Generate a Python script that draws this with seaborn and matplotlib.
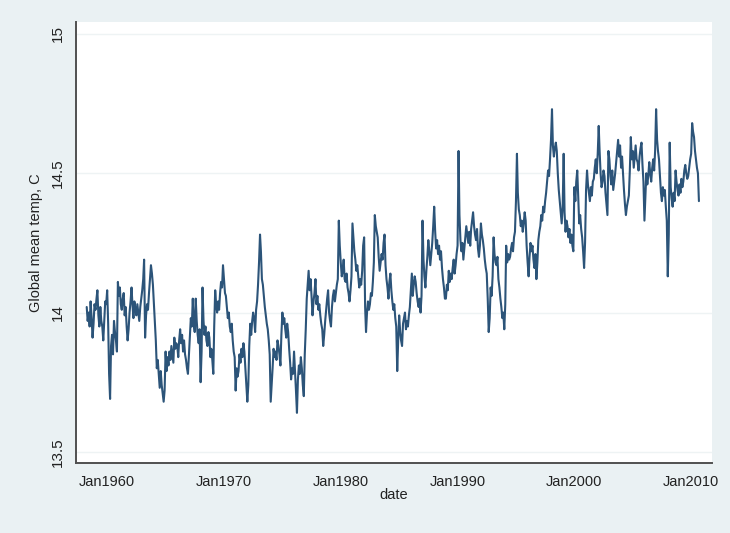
import numpy as np
import pandas as pd
import matplotlib
matplotlib.use("Agg")
import matplotlib.pyplot as plt
import matplotlib.dates as mdates
import seaborn as sns

# Monthly global mean temperature (deg C), April 1958 - September 2010
temp_1958 = [14.02, 13.97, 14.00, 13.95, 14.04, 13.98, 13.91, 13.96, 14.03]
temp_1959 = [14.01, 14.05, 14.08, 13.99, 13.95, 14.02, 13.97, 13.95, 13.90, 13.97, 14.04, 14.03]
temp_1960 = [14.08, 13.96, 13.78, 13.69, 13.88, 13.92, 13.85, 13.97, 13.93, 13.90, 13.86, 14.11]
temp_1961 = [14.06, 14.09, 14.03, 14.01, 14.05, 14.07, 13.99, 14.02, 13.95, 13.90, 13.94, 14.00]
temp_1962 = [14.04, 14.09, 14.03, 13.98, 14.04, 14.01, 13.99, 14.03, 14.00, 13.97, 14.02, 14.05]
temp_1963 = [14.08, 14.12, 14.19, 13.91, 13.99, 14.03, 14.01, 14.07, 14.12, 14.17, 14.14, 14.10]
temp_1964 = [14.03, 13.96, 13.90, 13.80, 13.83, 13.78, 13.73, 13.79, 13.74, 13.71, 13.68, 13.72]
temp_1965 = [13.86, 13.79, 13.84, 13.81, 13.86, 13.83, 13.88, 13.85, 13.82, 13.91, 13.87, 13.89]
temp_1966 = [13.88, 13.84, 13.90, 13.94, 13.89, 13.92, 13.86, 13.90, 13.85, 13.83, 13.80, 13.78]
temp_1967 = [13.85, 13.92, 13.98, 13.95, 14.05, 13.96, 13.93, 14.05, 13.97, 13.92, 13.89, 13.94]
temp_1968 = [13.75, 13.86, 14.09, 13.97, 13.92, 13.95, 13.90, 13.88, 13.93, 13.91, 13.84, 13.87]
temp_1969 = [13.83, 13.78, 13.95, 14.08, 14.03, 14.00, 14.04, 14.01, 14.07, 14.11, 14.09, 14.17]
temp_1970 = [14.12, 14.07, 14.06, 14.02, 13.98, 14.00, 13.95, 13.93, 13.96, 13.90, 13.86, 13.84]
temp_1971 = [13.72, 13.80, 13.77, 13.79, 13.85, 13.82, 13.87, 13.84, 13.89, 13.86, 13.80, 13.74]
temp_1972 = [13.68, 13.74, 13.88, 13.96, 13.92, 13.97, 14.00, 13.98, 13.93, 14.01, 14.04, 14.10]
temp_1973 = [14.18, 14.28, 14.22, 14.12, 14.10, 14.06, 14.02, 13.99, 13.96, 13.94, 13.90, 13.85]
temp_1974 = [13.68, 13.74, 13.80, 13.87, 13.84, 13.86, 13.83, 13.90, 13.88, 13.85, 13.81, 13.92]
temp_1975 = [14.00, 13.96, 13.98, 13.94, 13.91, 13.96, 13.93, 13.87, 13.82, 13.76, 13.80, 13.78]
temp_1976 = [13.86, 13.79, 13.72, 13.64, 13.76, 13.81, 13.78, 13.84, 13.80, 13.74, 13.70, 13.85]
temp_1977 = [13.94, 14.05, 14.10, 14.15, 14.08, 14.12, 14.06, 13.99, 14.04, 14.07, 14.12, 14.03]
temp_1978 = [14.06, 14.01, 14.03, 13.99, 13.96, 13.94, 13.88, 13.92, 13.97, 14.01, 14.05, 14.08]
temp_1979 = [14.00, 13.97, 13.95, 14.02, 14.06, 14.08, 14.04, 14.07, 14.10, 14.12, 14.33, 14.24]
temp_1980 = [14.18, 14.13, 14.15, 14.19, 14.12, 14.11, 14.14, 14.09, 14.07, 14.04, 14.08, 14.13]
temp_1981 = [14.32, 14.27, 14.22, 14.19, 14.15, 14.17, 14.13, 14.09, 14.12, 14.10, 14.15, 14.24]
temp_1982 = [14.27, 14.02, 13.93, 14.00, 14.04, 14.01, 14.03, 14.07, 14.06, 14.11, 14.18, 14.35]
temp_1983 = [14.31, 14.29, 14.27, 14.20, 14.15, 14.18, 14.21, 14.19, 14.25, 14.28, 14.17, 14.12]
temp_1984 = [14.09, 14.05, 14.11, 14.14, 14.08, 14.04, 14.01, 14.03, 13.98, 13.95, 13.79, 13.90]
temp_1985 = [13.99, 13.93, 13.90, 13.88, 13.96, 13.98, 14.00, 13.94, 13.97, 13.95, 13.99, 14.02]
temp_1986 = [14.08, 14.14, 14.06, 14.10, 14.13, 14.11, 14.07, 14.04, 14.02, 14.05, 14.00, 14.06]
temp_1987 = [14.33, 14.19, 14.13, 14.09, 14.15, 14.20, 14.26, 14.22, 14.17, 14.21, 14.25, 14.31]
temp_1988 = [14.38, 14.29, 14.23, 14.26, 14.21, 14.24, 14.19, 14.22, 14.16, 14.12, 14.09, 14.05]
temp_1989 = [14.05, 14.10, 14.08, 14.15, 14.11, 14.14, 14.12, 14.16, 14.19, 14.14, 14.17, 14.21]
temp_1990 = [14.24, 14.58, 14.35, 14.26, 14.22, 14.25, 14.19, 14.23, 14.27, 14.31, 14.28, 14.25]
temp_1991 = [14.29, 14.24, 14.30, 14.33, 14.36, 14.31, 14.28, 14.26, 14.30, 14.23, 14.20, 14.24]
temp_1992 = [14.32, 14.28, 14.26, 14.23, 14.19, 14.16, 14.14, 14.05, 13.93, 13.98, 14.09, 14.06]
temp_1993 = [14.13, 14.27, 14.21, 14.18, 14.17, 14.20, 14.12, 14.09, 14.05, 14.02, 13.98, 14.00]
temp_1994 = [13.94, 14.03, 14.24, 14.18, 14.21, 14.19, 14.20, 14.23, 14.25, 14.22, 14.27, 14.29]
temp_1995 = [14.40, 14.57, 14.43, 14.37, 14.35, 14.31, 14.33, 14.29, 14.32, 14.36, 14.33, 14.24]
temp_1996 = [14.18, 14.13, 14.20, 14.25, 14.22, 14.24, 14.19, 14.16, 14.21, 14.12, 14.18, 14.26]
temp_1997 = [14.29, 14.31, 14.35, 14.33, 14.38, 14.36, 14.40, 14.43, 14.47, 14.51, 14.49, 14.55]
temp_1998 = [14.62, 14.73, 14.60, 14.56, 14.59, 14.61, 14.58, 14.50, 14.44, 14.40, 14.36, 14.32]
temp_1999 = [14.38, 14.57, 14.36, 14.29, 14.33, 14.31, 14.27, 14.30, 14.25, 14.28, 14.24, 14.22]
temp_2000 = [14.45, 14.40, 14.47, 14.51, 14.42, 14.32, 14.35, 14.30, 14.27, 14.22, 14.16, 14.25]
temp_2001 = [14.44, 14.51, 14.46, 14.43, 14.40, 14.45, 14.42, 14.47, 14.48, 14.52, 14.55, 14.50]
temp_2002 = [14.57, 14.67, 14.58, 14.50, 14.45, 14.47, 14.51, 14.49, 14.43, 14.39, 14.35, 14.58]
temp_2003 = [14.55, 14.49, 14.46, 14.51, 14.44, 14.47, 14.50, 14.54, 14.58, 14.62, 14.56, 14.60]
temp_2004 = [14.52, 14.56, 14.50, 14.44, 14.39, 14.35, 14.38, 14.40, 14.42, 14.51, 14.63, 14.55]
temp_2005 = [14.58, 14.52, 14.56, 14.60, 14.55, 14.54, 14.51, 14.56, 14.59, 14.61, 14.53, 14.47]
temp_2006 = [14.33, 14.42, 14.50, 14.46, 14.49, 14.54, 14.50, 14.47, 14.52, 14.55, 14.51, 14.58]
temp_2007 = [14.73, 14.62, 14.58, 14.55, 14.49, 14.43, 14.40, 14.45, 14.42, 14.44, 14.38, 14.33]
temp_2008 = [14.13, 14.28, 14.61, 14.45, 14.41, 14.38, 14.43, 14.40, 14.51, 14.47, 14.44, 14.42]
temp_2009 = [14.46, 14.43, 14.48, 14.45, 14.47, 14.51, 14.53, 14.50, 14.48, 14.49, 14.52, 14.55]
temp_2010 = [14.57, 14.68, 14.65, 14.63, 14.58, 14.55, 14.52, 14.50, 14.40]

yearly = [
    temp_1958, temp_1959, temp_1960, temp_1961, temp_1962, temp_1963, temp_1964,
    temp_1965, temp_1966, temp_1967, temp_1968, temp_1969, temp_1970, temp_1971,
    temp_1972, temp_1973, temp_1974, temp_1975, temp_1976, temp_1977, temp_1978,
    temp_1979, temp_1980, temp_1981, temp_1982, temp_1983, temp_1984, temp_1985,
    temp_1986, temp_1987, temp_1988, temp_1989, temp_1990, temp_1991, temp_1992,
    temp_1993, temp_1994, temp_1995, temp_1996, temp_1997, temp_1998, temp_1999,
    temp_2000, temp_2001, temp_2002, temp_2003, temp_2004, temp_2005, temp_2006,
    temp_2007, temp_2008, temp_2009, temp_2010,
]
temps = [v for year in yearly for v in year]

start_month = "1958-04"
y_ticks = [13.5, 14, 14.5, 15]
y_tick_labels = ["13.5", "14", "14.5", "15"]
x_tick_years = [1960, 1970, 1980, 1990, 2000, 2010]
x_tick_labels = ["Jan1960", "Jan1970", "Jan1980", "Jan1990", "Jan2000", "Jan2010"]

dates = pd.date_range(start=start_month, periods=len(temps), freq="MS")
df = pd.DataFrame({"date": dates, "temp": temps})

sns.set_style("white")
plt.rcParams["font.family"] = ["Liberation Sans", "DejaVu Sans"]

outer_bg = "#EAF1F3"
line_col = "#2C5479"
axis_col = "#505050"

W, H = 730, 533
fig = plt.figure(figsize=(W / 100, H / 100), dpi=100)
fig.patch.set_facecolor(outer_bg)
left, right, top, bottom = 76, 712, 22, 463
ax = fig.add_axes([left / W, (H - bottom) / H, (right - left) / W, (bottom - top) / H])
ax.set_facecolor("white")

for yv in y_ticks:
    ax.axhline(yv, color="#EEF3F4", lw=1.0, zorder=0)

sns.lineplot(data=df, x="date", y="temp", ax=ax, color=line_col, lw=1.5)

ax.set_ylim(13.46, 15.043)
ax.set_xlim(pd.Timestamp("1957-05-01"), pd.Timestamp("2011-10-15"))

ax.set_yticks(y_ticks)
ax.set_yticklabels(y_tick_labels, rotation=90, va="center", fontsize=11, color="#222222")
ax.set_xticks([pd.Timestamp(f"{y}-01-01") for y in x_tick_years])
ax.set_xticklabels(x_tick_labels, fontsize=10.5, color="#222222")

ax.tick_params(axis="both", direction="out", length=5, width=1.1, color=axis_col, pad=4)
ax.tick_params(axis="y", pad=3)

for side in ["top", "right"]:
    ax.spines[side].set_visible(False)
for side in ["left", "bottom"]:
    ax.spines[side].set_color(axis_col)
    ax.spines[side].set_linewidth(1.4)

ax.set_ylabel("Global mean temp, C", fontsize=10.5, color="#222222", labelpad=6)
ax.set_xlabel("date", fontsize=10.5, color="#222222", labelpad=-1)

fig.savefig("out.png", dpi=100, facecolor=outer_bg)
